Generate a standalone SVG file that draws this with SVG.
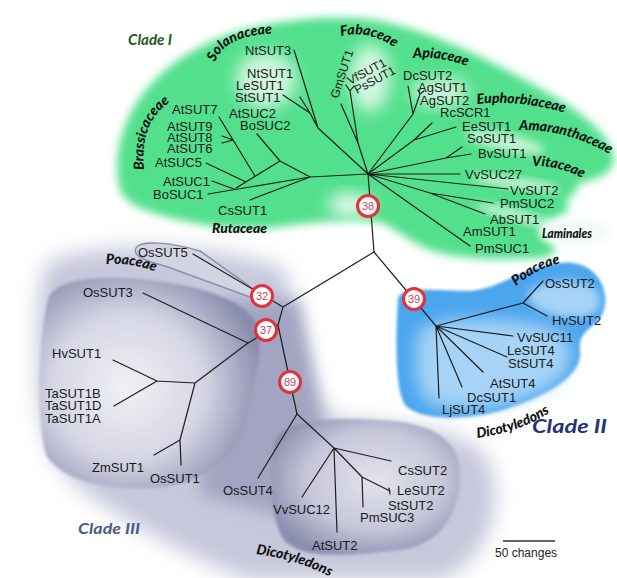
<svg xmlns="http://www.w3.org/2000/svg" width="617" height="578" viewBox="0 0 617 578">
<defs>
<filter id="b2" x="-20%" y="-20%" width="140%" height="140%"><feGaussianBlur stdDeviation="1.5"/></filter>
<filter id="b4" x="-20%" y="-20%" width="140%" height="140%"><feGaussianBlur stdDeviation="4"/></filter>
<filter id="b8" x="-30%" y="-30%" width="160%" height="160%"><feGaussianBlur stdDeviation="8"/></filter>
<filter id="b10" x="-30%" y="-30%" width="160%" height="160%"><feGaussianBlur stdDeviation="10"/></filter>
<radialGradient id="gPoa" cx="0.4" cy="0.52" r="0.62">
<stop offset="0" stop-color="#f0f0f5"/><stop offset="0.55" stop-color="#d6d7e5"/><stop offset="1" stop-color="#8a8cae"/>
</radialGradient>
<radialGradient id="gDic" cx="0.55" cy="0.45" r="0.6">
<stop offset="0" stop-color="#e2e3ec"/><stop offset="0.6" stop-color="#c6c7da"/><stop offset="1" stop-color="#8c8eaf"/>
</radialGradient>
<path id="pSol" d="M215 62 Q227 30 294 34"/>
<path id="pBra" d="M144 170 Q139 112 183 96"/>
<path id="pFab" d="M341 36 Q374 28 407 57"/>
<path id="pApi" d="M413 58 Q447 55 482 73"/>
<path id="pEup" d="M477 104 Q527 99 577 117"/>
<path id="pAma" d="M519 130 Q572 129 619 160"/>
<path id="pVit" d="M532 166 Q561 165 589 182"/>
<path id="pPoa3" d="M106 264 Q138 262 170 278"/>
<path id="pPoa2" d="M516 286 Q545 261 582 261"/>
<path id="pDic2" d="M477 438 Q536 430 570 396"/>
<path id="pDic3" d="M256 554 Q306 560 354 590"/>
</defs>
<style>
.e{fill:none;stroke:#1e1e1e;stroke-width:1.2;stroke-linecap:round}
.g{font-family:"Liberation Sans",Arial,sans-serif;font-size:13px;fill:#1a1a1a}
.f{font-family:Lato,"DejaVu Sans",sans-serif;font-weight:900;font-style:italic;font-size:14px;fill:#111}
.cl{font-family:Lato,"DejaVu Sans",sans-serif;font-weight:bold;font-style:italic}
.c circle{fill:#fff;stroke:#e2313b;stroke-width:3}
.c text{font-family:"Liberation Sans",Arial,sans-serif;font-size:11px;fill:#c94552;text-anchor:middle}
</style>
<rect width="617" height="578" fill="#fff"/>

<g id="clade3-bg">
<path d="M48 262 C110 238 220 246 282 268 C300 300 302 380 330 416 C380 428 465 422 488 460 C505 500 492 560 440 580 L250 580 C200 562 140 530 96 500 C58 476 38 440 38 380 C38 330 34 290 48 262 Z" fill="#c6c8db" filter="url(#b10)"/>
<path d="M222 300 L298 300 L322 420 L298 520 L200 495 Z" fill="#a2a4c1" filter="url(#b8)"/>
<path d="M48 300 C52 280 95 274 150 280 C200 286 240 298 256 322 C264 345 256 380 246 420 C236 460 202 485 152 488 C100 491 60 478 46 455 C36 420 38 340 48 300 Z" fill="url(#gPoa)" filter="url(#b2)"/>
<path d="M275 440 C285 420 330 417 380 420 C432 422 458 440 460 470 C462 510 442 545 400 550 C350 556 302 560 284 540 C270 520 268 470 275 440 Z" fill="url(#gDic)" filter="url(#b2)"/>
<path d="M136 248 C140 240 170 242 200 251 L263 296 L250 297 L165 266 C146 261 132 256 136 248 Z" fill="#d2d4e3" stroke="#8c8eae" stroke-width="1.5"/>
</g>

<g id="clade2-bg">
<path d="M398 300 C398 286 430 290 468 291 C500 290 518 268 560 263 C600 258 614 298 600 318 C588 332 578 333 580 352 C582 378 542 398 500 411 C460 421 422 420 406 406 C394 392 396 330 398 300 Z" fill="#4ba6ee" filter="url(#b2)"/>
<path d="M420 330 C440 318 480 318 520 322 C560 326 574 340 570 360 C565 385 530 400 490 407 C455 412 430 408 422 395 C415 380 414 345 420 330 Z" fill="#a6d3f6" filter="url(#b8)"/>
<path d="M530 290 C550 278 585 276 598 292 C606 306 595 318 575 318 C550 318 522 305 530 290 Z" fill="#a6d3f6" filter="url(#b4)"/>
</g>

<g id="clade1-bg">
<path d="M118 180 C112 125 145 72 210 42 C260 20 330 14 375 20 C440 32 505 68 560 100 C600 125 620 150 612 166 C605 178 590 180 580 183 C576 190 574 195 566 200 C570 206 570 212 556 218 C540 224 535 232 548 240 C560 246 556 257 540 258 C500 260 460 260 430 250 C410 242 395 228 380 222 C350 219 310 222 272 228 C230 231 185 224 145 210 C125 202 119 192 118 180 Z" fill="#52e08d" filter="url(#b4)"/>
<ellipse cx="266" cy="80" rx="30" ry="28" fill="#d2f7de" filter="url(#b8)"/>
<ellipse cx="370" cy="78" rx="20" ry="34" fill="#d2f7de" filter="url(#b8)"/>
<ellipse cx="440" cy="92" rx="28" ry="14" fill="#d2f7de" filter="url(#b8)"/>
<ellipse cx="505" cy="142" rx="40" ry="9" fill="#c0f3d1" filter="url(#b4)" transform="rotate(12 505 142)"/>
<ellipse cx="515" cy="183" rx="45" ry="6" fill="#bff3cf" filter="url(#b4)" transform="rotate(8 515 183)"/>
<ellipse cx="515" cy="215" rx="40" ry="6" fill="#bff3cf" filter="url(#b4)" transform="rotate(15 515 215)"/>
<ellipse cx="575" cy="232" rx="35" ry="14" fill="#f2fbf5" filter="url(#b4)"/>
<ellipse cx="350" cy="205" rx="22" ry="12" fill="#e2f9e9" filter="url(#b8)"/>
</g>

<g id="connectors">
<path class="e" d="M368 174 L374 252"/>
<path class="e" d="M368 174 L310 177 M310 177 L208 194 M212 181 L234 189 M310 177 L280 161 M280 161 L257 134 M280 161 L236 188 M219 117 L255 176 M222 136 L233 140 M222 143 L233 140 M206 163 L246 182 M310 177 L250 200"/>
<path class="e" d="M368 174 L318 128 M318 128 L294 50 M318 128 L310 113 M310 113 L300 97 M310 113 L283 95"/>
<path class="e" d="M368 174 L358 143 M358 143 L341 104 M358 143 L350 91 M350 91 L346 85 M350 91 L354 86"/>
<path class="e" d="M368 174 L413 114 M413 114 L408 86 M413 114 L420 94 M420 94 L418 90 M420 94 L424 91"/>
<path class="e" d="M368 174 L414 140 M414 140 L432 123 M414 140 L456 127"/>
<path class="e" d="M368 174 L446 158 M446 158 L462 147 M446 158 L471 154"/>
<path class="e" d="M368 174 L460 174 M368 174 L508 189 M368 174 L430 193 M430 193 L493 203 M430 193 L485 214 M368 174 L470 246"/>
<path class="e" d="M374 252 L283 307 M374 252 L436 326 M283 307 L193 254 M283 307 L278 325 M278 325 L248 343 M278 325 L297 414"/>
<path class="e" d="M248 343 L143 293 M248 343 L195 383 M195 383 L157 381 M157 381 L113 360 M157 381 L114 406 M195 383 L180 440 M180 440 L154 455 M180 440 L181 465"/>
<path class="e" d="M297 414 L258 478 M297 414 L334 448 M334 448 L391 461 M334 448 L302 497 M334 448 L337 532 M334 448 L362 477 M362 477 L363 507 M362 477 L390 491 M389 488 L390 494"/>
<path class="e" d="M436 326 L523 303 M523 303 L543 281 M523 303 L547 316 M436 326 L513 336 M436 326 L507 357 M436 326 L483 372 M436 326 L462 387 M436 326 L439 398"/>
</g>

<g id="n38" class="c"><circle cx="368" cy="206" r="10.5"/><text x="368" y="210">38</text></g>
<g id="n32" class="c"><circle cx="262" cy="296" r="10.5"/><text x="262" y="300">32</text></g>
<g id="n37" class="c"><circle cx="266" cy="330" r="10.5"/><text x="266" y="334">37</text></g>
<g id="n89" class="c"><circle cx="290" cy="382" r="10.5"/><text x="290" y="386">89</text></g>
<g id="n39" class="c"><circle cx="414" cy="299" r="10.5"/><text x="414" y="303">39</text></g>

<g id="leaves-clade1" class="g">
<g id="NtSUT3"><text x="245" y="55">NtSUT3</text></g>
<g id="NtSUT1"><text x="247" y="78">NtSUT1</text></g>
<g id="LeSUT1"><text x="236" y="90">LeSUT1</text></g>
<g id="StSUT1"><text x="235" y="102">StSUT1</text></g>
<g id="AtSUT7"><text x="172" y="114">AtSUT7</text></g>
<g id="AtSUC2"><text x="229" y="118">AtSUC2</text></g>
<g id="BoSUC2"><text x="240" y="130">BoSUC2</text></g>
<g id="AtSUT9"><text x="167" y="131">AtSUT9</text></g>
<g id="AtSUT8"><text x="167" y="142">AtSUT8</text></g>
<g id="AtSUT6"><text x="167" y="153">AtSUT6</text></g>
<g id="AtSUC5"><text x="155" y="167">AtSUC5</text></g>
<g id="AtSUC1"><text x="163" y="186">AtSUC1</text></g>
<g id="BoSUC1"><text x="153" y="199">BoSUC1</text></g>
<g id="CsSUT1"><text x="218" y="215">CsSUT1</text></g>
<g id="GmSUT1"><text x="338" y="99" font-size="12" transform="rotate(-72 338 99)">GmSUT1</text></g>
<g id="VfSUT1"><text x="350" y="85" font-size="12" transform="rotate(-28 350 85)">VfSUT1</text></g>
<g id="PsSUT1"><text x="357" y="94" font-size="12" transform="rotate(-28 357 94)">PsSUT1</text></g>
<g id="DcSUT2"><text x="403" y="80">DcSUT2</text></g>
<g id="AgSUT1"><text x="418" y="92">AgSUT1</text></g>
<g id="AgSUT2"><text x="420" y="105">AgSUT2</text></g>
<g id="RcSCR1"><text x="440" y="117">RcSCR1</text></g>
<g id="EeSUT1"><text x="462" y="131">EeSUT1</text></g>
<g id="SoSUT1"><text x="467" y="143">SoSUT1</text></g>
<g id="BvSUT1"><text x="478" y="158">BvSUT1</text></g>
<g id="VvSUC27"><text x="465" y="179">VvSUC27</text></g>
<g id="VvSUT2"><text x="510" y="195">VvSUT2</text></g>
<g id="PmSUC2"><text x="500" y="208">PmSUC2</text></g>
<g id="AbSUT1"><text x="490" y="224">AbSUT1</text></g>
<g id="AmSUT1"><text x="463" y="236">AmSUT1</text></g>
<g id="PmSUC1"><text x="475" y="253">PmSUC1</text></g>
</g>

<g id="leaves-clade3" class="g">
<g id="OsSUT5"><text x="138" y="257">OsSUT5</text></g>
<g id="OsSUT3"><text x="83" y="297">OsSUT3</text></g>
<g id="HvSUT1"><text x="52" y="358">HvSUT1</text></g>
<g id="TaSUT1B"><text x="45" y="398">TaSUT1B</text></g>
<g id="TaSUT1D"><text x="45" y="410">TaSUT1D</text></g>
<g id="TaSUT1A"><text x="45" y="423">TaSUT1A</text></g>
<g id="ZmSUT1"><text x="92" y="472">ZmSUT1</text></g>
<g id="OsSUT1"><text x="150" y="483">OsSUT1</text></g>
<g id="OsSUT4"><text x="223" y="495">OsSUT4</text></g>
<g id="VvSUC12"><text x="273" y="514">VvSUC12</text></g>
<g id="AtSUT2"><text x="312" y="550">AtSUT2</text></g>
<g id="CsSUT2"><text x="398" y="475">CsSUT2</text></g>
<g id="LeSUT2"><text x="397" y="495">LeSUT2</text></g>
<g id="StSUT2"><text x="388" y="510">StSUT2</text></g>
<g id="PmSUC3"><text x="360" y="522">PmSUC3</text></g>
</g>

<g id="leaves-clade2" class="g">
<g id="OsSUT2"><text x="545" y="288">OsSUT2</text></g>
<g id="HvSUT2"><text x="552" y="325">HvSUT2</text></g>
<g id="VvSUC11"><text x="517" y="342">VvSUC11</text></g>
<g id="LeSUT4"><text x="507" y="355">LeSUT4</text></g>
<g id="StSUT4"><text x="508" y="368">StSUT4</text></g>
<g id="AtSUT4"><text x="490" y="388">AtSUT4</text></g>
<g id="DcSUT1"><text x="467" y="402">DcSUT1</text></g>
<g id="LjSUT4"><text x="442" y="414">LjSUT4</text></g>
</g>

<g id="families" class="f">
<text><textPath href="#pSol">Solanaceae</textPath></text>
<text><textPath href="#pBra">Brassicaceae</textPath></text>
<text><textPath href="#pFab">Fabaceae</textPath></text>
<text><textPath href="#pApi">Apiaceae</textPath></text>
<text><textPath href="#pEup">Euphorbiaceae</textPath></text>
<text><textPath href="#pAma">Amaranthaceae</textPath></text>
<text><textPath href="#pVit">Vitaceae</textPath></text>
<text x="542" y="238" textLength="50" lengthAdjust="spacingAndGlyphs">Laminales</text>
<text x="212" y="233" textLength="55" lengthAdjust="spacingAndGlyphs">Rutaceae</text>
<text><textPath href="#pPoa3">Poaceae</textPath></text>
<text><textPath href="#pPoa2">Poaceae</textPath></text>
<text><textPath href="#pDic2">Dicotyledons</textPath></text>
<text><textPath href="#pDic3">Dicotyledons</textPath></text>
</g>

<g id="clades" class="cl">
<text x="128" y="45" font-size="16" fill="#1f5a22" textLength="44" lengthAdjust="spacingAndGlyphs">Clade I</text>
<text x="532" y="433" font-size="19" fill="#243476" textLength="75" lengthAdjust="spacingAndGlyphs">Clade II</text>
<text x="78" y="534" font-size="16" fill="#4b5a86" textLength="62" lengthAdjust="spacingAndGlyphs">Clade III</text>
</g>

<g id="scale">
<path d="M503 541 L555 541" stroke="#333" stroke-width="1.3"/>
<text x="495" y="557" font-family="Liberation Sans, Arial, sans-serif" font-size="12" fill="#222">50 changes</text>
</g>
</svg>
